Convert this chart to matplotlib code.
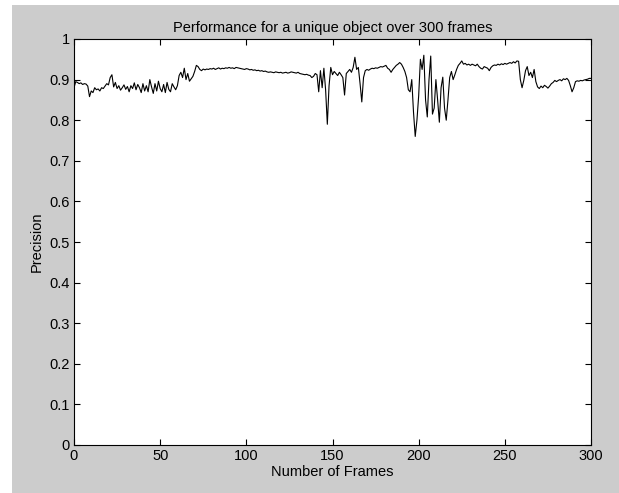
import matplotlib
matplotlib.use("Agg")
import matplotlib.pyplot as plt
import matplotlib.patches as mpatches
import numpy as np

# Precision per frame (frames 0..300)
precision = [
    0.880, 0.895, 0.893, 0.890, 0.892, 0.888, 0.890, 0.889, 0.884, 0.858,
    0.872, 0.868, 0.880, 0.875, 0.877, 0.872, 0.880, 0.878, 0.884, 0.890,
    0.887, 0.905, 0.912, 0.882, 0.893, 0.878, 0.885, 0.874, 0.880, 0.887,
    0.876, 0.883, 0.870, 0.885, 0.878, 0.892, 0.875, 0.888, 0.880, 0.868,
    0.890, 0.872, 0.885, 0.870, 0.900, 0.882, 0.866, 0.890, 0.872, 0.896,
    0.878, 0.870, 0.888, 0.868, 0.893, 0.876, 0.870, 0.890, 0.882, 0.875,
    0.885, 0.910, 0.918, 0.905, 0.928, 0.900, 0.915, 0.896, 0.902, 0.908,
    0.920, 0.935, 0.932, 0.925, 0.922, 0.926, 0.924, 0.926, 0.925, 0.927,
    0.926, 0.928, 0.925, 0.927, 0.929, 0.926, 0.928, 0.927, 0.929, 0.928,
    0.930, 0.928, 0.929, 0.927, 0.930, 0.929, 0.928, 0.927, 0.926, 0.925,
    0.927, 0.926, 0.924, 0.925, 0.923, 0.924, 0.922, 0.923, 0.921, 0.922,
    0.920, 0.921, 0.919, 0.918, 0.919, 0.918, 0.917, 0.919, 0.918, 0.917,
    0.918, 0.916, 0.917, 0.918, 0.916, 0.917, 0.919, 0.918, 0.917, 0.916,
    0.918, 0.915, 0.914, 0.913, 0.912, 0.913, 0.911, 0.910, 0.905, 0.908,
    0.915, 0.912, 0.870, 0.922, 0.880, 0.928, 0.875, 0.790, 0.885, 0.930,
    0.912, 0.920, 0.915, 0.910, 0.918, 0.912, 0.905, 0.862, 0.915, 0.920,
    0.925, 0.918, 0.930, 0.955, 0.925, 0.930, 0.890, 0.845, 0.905, 0.922,
    0.925, 0.923, 0.926, 0.928, 0.927, 0.929, 0.928, 0.930, 0.932, 0.931,
    0.933, 0.935, 0.928, 0.925, 0.918, 0.925, 0.930, 0.935, 0.938, 0.942,
    0.938, 0.930, 0.920, 0.905, 0.875, 0.870, 0.900, 0.820, 0.760, 0.800,
    0.860, 0.950, 0.925, 0.960, 0.850, 0.808, 0.900, 0.958, 0.815, 0.830,
    0.900, 0.850, 0.795, 0.880, 0.906, 0.830, 0.800, 0.850, 0.905, 0.920,
    0.900, 0.912, 0.925, 0.935, 0.940, 0.946, 0.938, 0.940, 0.936, 0.938,
    0.935, 0.938, 0.936, 0.934, 0.938, 0.932, 0.928, 0.926, 0.932, 0.930,
    0.928, 0.922, 0.930, 0.934, 0.936, 0.935, 0.938, 0.936, 0.939, 0.937,
    0.940, 0.938, 0.940, 0.942, 0.940, 0.944, 0.941, 0.946, 0.945, 0.900,
    0.880, 0.898, 0.922, 0.932, 0.910, 0.918, 0.905, 0.925, 0.895, 0.882,
    0.878, 0.884, 0.880, 0.886, 0.883, 0.879, 0.884, 0.890, 0.893, 0.898,
    0.895, 0.898, 0.900, 0.897, 0.902, 0.900, 0.903, 0.898, 0.885, 0.870,
    0.880, 0.895, 0.897, 0.896, 0.898, 0.897, 0.899, 0.900, 0.901, 0.903,
    0.903,
]
frames = np.arange(len(precision))

x_ticks = [0, 50, 100, 150, 200, 250, 300]
y_ticks = [0, 0.1, 0.2, 0.3, 0.4, 0.5, 0.6, 0.7, 0.8, 0.9, 1]
y_labels = ["0", "0.1", "0.2", "0.3", "0.4", "0.5", "0.6", "0.7", "0.8", "0.9", "1"]

plt.rcParams["font.family"] = ["Liberation Sans", "DejaVu Sans"]
plt.rcParams["font.size"] = 10

fig = plt.figure(figsize=(6.19, 4.93), dpi=100)
fig.patch.set_facecolor("white")

# MATLAB-style grey figure area (screenshot has a thin white border top/left)
fig.patches.append(mpatches.Rectangle(
    (12 / 619, 0), 1 - 12 / 619, 1 - 5 / 493,
    transform=fig.transFigure, facecolor="#cccccc", edgecolor="none", zorder=-10))

ax = fig.add_axes([74 / 619, 48 / 493, 517 / 619, 406 / 493])
ax.set_zorder(5)
ax.set_facecolor("white")
ax.plot(frames, precision, color="black", linewidth=0.8)

ax.set_xlim(0, 300)
ax.set_ylim(0, 1)
ax.set_xticks(x_ticks)
ax.set_yticks(y_ticks)
ax.set_yticklabels(y_labels)
ax.tick_params(direction="in", length=4, width=0.8, top=True, right=True,
               labelsize=10.5, pad=3, colors="black")
for s in ax.spines.values():
    s.set_linewidth(0.8)
    s.set_color("black")

ax.set_title("Performance for a unique object over 300 frames", fontsize=10.5, pad=5)
ax.set_xlabel("Number of Frames", fontsize=10.5, labelpad=1)
ax.set_ylabel("Precision", fontsize=10.5, labelpad=4)

fig.savefig("out.png", dpi=100, facecolor=fig.get_facecolor())
